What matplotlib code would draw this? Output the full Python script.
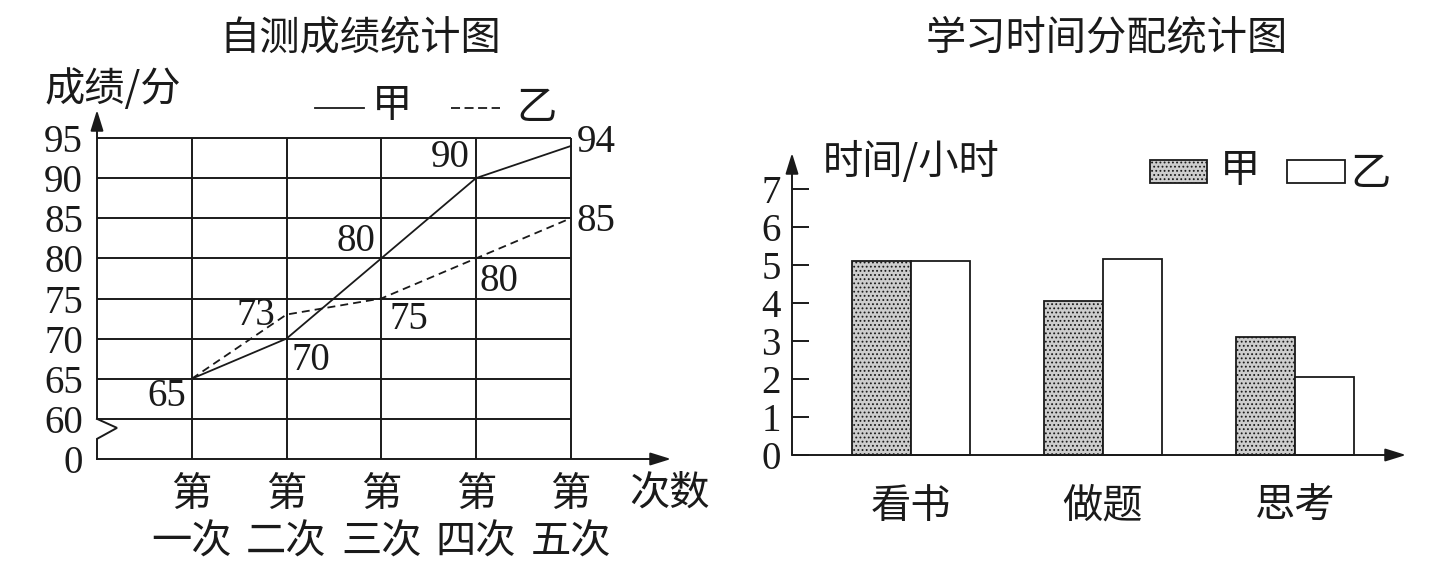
import matplotlib
matplotlib.use('Agg')
import matplotlib.pyplot as plt
from matplotlib.lines import Line2D
from matplotlib.patches import Rectangle

# ---------------- data ----------------
attempts = ['第\n一次', '第\n二次', '第\n三次', '第\n四次', '第\n五次']
jia_scores = [65, 70, 80, 90, 94]
yi_scores = [65, 73, 75, 80, 85]
score_ticks = [0, 60, 65, 70, 75, 80, 85, 90, 95]

activities = ['看书', '做题', '思考']
jia_hours = [5.1, 4.05, 3.1]
yi_hours = [5.1, 5.15, 2.05]
hour_ticks = [0, 1, 2, 3, 4, 5, 6, 7]

# ---------------- style ----------------
W, H, DPI = 1437, 563, 100
INK = '#1a1a1a'
GRAY = '#cdcdcd'
plt.rcParams['hatch.color'] = '#8c8c8c'
plt.rcParams['hatch.linewidth'] = 0.8
CJK = ['Noto Sans CJK SC', 'DejaVu Sans']
NUM = ['Liberation Serif', 'DejaVu Serif']
FS_CJK = 29
FS_NUM = 28
LW = 1.4

fig = plt.figure(figsize=(W / DPI, H / DPI), dpi=DPI)
fig.patch.set_facecolor('white')


def rect(l, t, r, b):
    return [l / W, 1 - b / H, (r - l) / W, (b - t) / H]


def ftext(x, y, s, family=CJK, size=FS_CJK, ha='center', va='center'):
    fig.text(x / W, 1 - y / H, s, family=family, fontsize=size, ha=ha, va=va, color=INK)


def ymap(v):
    # broken axis: 0..60 compressed into one 5-point cell
    return v if v >= 60 else 55 + v / 60 * 5


# ================= left: line chart =================
ax1 = fig.add_axes(rect(97, 110, 671, 459))
px_x = 94.75
px_y = (459 - 138) / 40
ax1.set_xlim(0, (671 - 97) / px_x)
ax1.set_ylim(55, 95 + (138 - 110) / px_y)
for s in ax1.spines.values():
    s.set_visible(False)
ax1.patch.set_alpha(0)

xs = list(range(1, len(attempts) + 1))
grid_y = [v for v in score_ticks if v >= 60]
ax1.hlines(grid_y, 0, xs[-1], color=INK, lw=LW, clip_on=False)
ax1.vlines(xs, 55, 95, color=INK, lw=LW, clip_on=False)

xmax1 = ax1.get_xlim()[1]
ytop1 = ax1.get_ylim()[1]
arrow_kw = dict(arrowstyle='-|>,head_length=0.9,head_width=0.28', color=INK, lw=LW,
                shrinkA=0, shrinkB=0, mutation_scale=14)
ax1.annotate('', xy=(xmax1, 55), xytext=(0, 55), arrowprops=arrow_kw, annotation_clip=False)
ax1.annotate('', xy=(0, ytop1), xytext=(0, 60), arrowprops=arrow_kw, annotation_clip=False)
zz_dx = 20 / px_x
ax1.plot([0, zz_dx, 0, 0], [60, 60 - 9 / px_y, 60 - 20 / px_y, 55], color=INK, lw=LW,
         clip_on=False, solid_joinstyle='miter')

ax1.plot(xs, jia_scores, color=INK, lw=1.3, clip_on=False)
ax1.plot(xs, yi_scores, color=INK, lw=1.3, dashes=(4.4, 2.8), clip_on=False)

# label offsets in image pixels (dx right, dy down)
jia_off = [(-25, 18), (24, 22), (-25, -17), (-26, -21), (25, -4)]
yi_off = [None, (-31, 1), (28, 21), (23, 23), (25, 3)]
for x, v, off in zip(xs, jia_scores, jia_off):
    ax1.annotate(str(v), (x, v), xytext=(off[0], -off[1]), textcoords='offset pixels',
                 ha='center', va='center', family=NUM, fontsize=FS_NUM, color=INK,
                 annotation_clip=False)
for x, v, off in zip(xs, yi_scores, yi_off):
    if off is None:
        continue
    ax1.annotate(str(v), (x, v), xytext=(off[0], -off[1]), textcoords='offset pixels',
                 ha='center', va='center', family=NUM, fontsize=FS_NUM, color=INK,
                 annotation_clip=False)

ax1.set_yticks([ymap(v) for v in score_ticks], [str(v) for v in score_ticks])
ax1.tick_params(axis='y', length=0, pad=10, labelsize=FS_NUM, labelcolor=INK)
for lab in ax1.get_yticklabels():
    lab.set_family(NUM)
ax1.set_xticks(xs, attempts)
ax1.tick_params(axis='x', length=0, pad=11, labelcolor=INK)
for lab in ax1.get_xticklabels():
    lab.set_family(CJK)
    lab.set_fontsize(FS_CJK)
    lab.set_linespacing(1.2)

ftext(670, 493, '次数')
ftext(45, 89, '成绩/分', ha='left')
ftext(360, 38, '自测成绩统计图')

# legend (left)
fig.add_artist(Line2D([315 / W, 364 / W], [1 - 108 / H] * 2, color=INK, lw=1.3))
ftext(392, 106, '甲')
fig.add_artist(Line2D([451 / W, 500 / W], [1 - 108 / H] * 2, color=INK, lw=1.3, dashes=(5, 2.5)))
ftext(537, 108, '乙')

# ================= right: bar chart =================
ax2 = fig.add_axes(rect(792, 153, 1406, 455))
px2_x = 192
px2_y = 38
ax2.set_xlim((792 - 911) / px2_x, (1406 - 911) / px2_x)
ax2.set_ylim(0, 7 + (189 - 153) / px2_y)
for s in ax2.spines.values():
    s.set_visible(False)
ax2.patch.set_alpha(0)

bw = 59 / px2_x
cx = list(range(len(activities)))
ax2.bar([c - bw / 2 for c in cx], jia_hours, bw, color=GRAY, edgecolor=INK, lw=1.3,
        hatch='....', clip_on=False)
ax2.bar([c + bw / 2 for c in cx], yi_hours, bw, color='white', edgecolor=INK, lw=1.3,
        clip_on=False)

x0, x1 = ax2.get_xlim()
ytop2 = ax2.get_ylim()[1]
ax2.annotate('', xy=(x1, 0), xytext=(x0, 0), arrowprops=arrow_kw, annotation_clip=False)
ax2.annotate('', xy=(x0, ytop2), xytext=(x0, 0), arrowprops=arrow_kw, annotation_clip=False)

ax2.set_yticks(hour_ticks, [str(v) for v in hour_ticks])
ax2.tick_params(axis='y', direction='in', length=17 * 72 / DPI, width=LW, color=INK,
                pad=8, labelsize=FS_NUM, labelcolor=INK)
for lab in ax2.get_yticklabels():
    lab.set_family(NUM)
ax2.set_xticks(cx, activities)
ax2.tick_params(axis='x', length=0, pad=22, labelcolor=INK)
for lab in ax2.get_xticklabels():
    lab.set_family(CJK)
    lab.set_fontsize(FS_CJK)

ftext(823, 162, '时间/小时', ha='left')
ftext(1107, 38, '学习时间分配统计图')

# legend (right)
fig.add_artist(Rectangle((1150 / W, 1 - 183 / H), 57 / W, 23 / H, transform=fig.transFigure,
                         facecolor=GRAY, edgecolor=INK, lw=1.3, hatch='....'))
ftext(1240, 171, '甲')
fig.add_artist(Rectangle((1287 / W, 1 - 183 / H), 58 / W, 23 / H, transform=fig.transFigure,
                         facecolor='white', edgecolor=INK, lw=1.3))
ftext(1370, 173, '乙')

fig.savefig('out.png', dpi=DPI, facecolor='white')
